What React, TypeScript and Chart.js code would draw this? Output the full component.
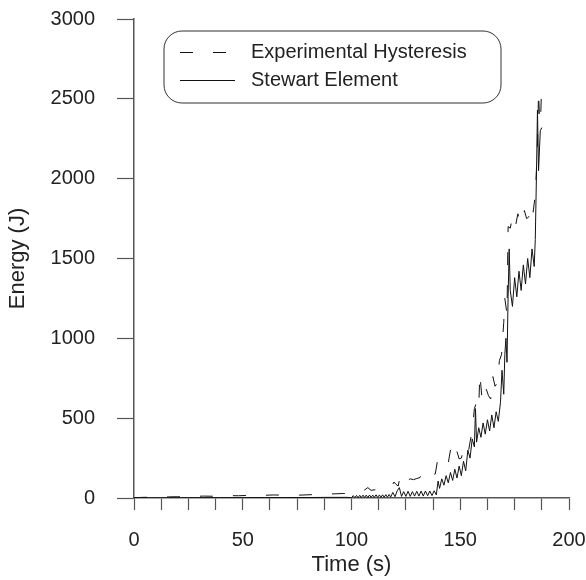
import React, { useEffect, useRef } from 'react';
import { Chart, registerables } from 'chart.js';

Chart.register(...registerables);

const seriesNames = ['Experimental Hysteresis', 'Stewart Element'];
const xAxisTitle = 'Time (s)';
const yAxisTitle = 'Energy (J)';

const expTime = [
  0, 4, 8, 12, 16, 20, 24, 28, 32, 36, 40, 44, 48, 52, 56, 60, 64, 68, 72, 76, 80, 84, 88, 92, 96, 100,
  102, 104, 106, 107.5, 109, 111, 113, 115, 117, 118.5, 119.5, 120.5, 121.5, 122.5, 124, 125.5, 127, 128.5,
  130, 131.5, 132.5, 134, 135.5, 137, 138.5, 139.5, 140.5, 141.5, 143, 144.5, 145.5, 146.5, 147.5, 148.5,
  149.5, 150.5, 151.5, 152.5, 153.5, 154.5, 155.5, 156.5, 157.5, 158.5, 159, 160, 161, 162, 163, 164, 165,
  166, 167, 168, 169, 170, 170.5, 171.5, 172, 173, 174, 174.5, 175.5, 176.5, 177.5, 178.5, 179.5, 180.5,
  181.5, 182.5, 183.5, 184.5, 185.5, 186, 186.5, 187, 187.5
];
const expEnergy = [
  2, 4, 5, 4, 7, 8, 7, 10, 12, 11, 14, 15, 14, 16, 18, 17, 19, 18, 17, 18, 20, 22, 24, 26, 28, 27,
  30, 46, 50, 65, 48, 52, 50, 55, 60, 72, 100, 85, 75, 150, 110, 108, 120, 115,
  122, 128, 168, 140, 138, 145, 150, 230, 185, 200, 205, 220, 300, 240, 235, 290,
  245, 250, 300, 260, 270, 350, 420, 560, 600, 560, 780, 620, 600, 680, 640, 620, 760,
  700, 720, 860, 900, 1100, 1250, 1150, 1700, 1690, 1760, 1700, 1710, 1780, 1720, 1730, 1800, 1750,
  1760, 1840, 1790, 1900, 2200, 2550, 2350, 2400, 2620
];

const stwTime = [
  0, 10, 20, 30, 40, 50, 60, 70, 80, 90, 98, 100,
  100.8, 101.5, 102.3, 103, 103.8, 104.5, 105.3, 106, 106.8, 107.5, 108.3, 109, 109.8, 110.5, 111.3, 112,
  112.8, 113.5, 114.3, 115, 115.8, 116.5, 117.3, 118,
  119, 120, 121, 122, 123, 124, 125, 126, 127, 128, 129, 130, 131, 132, 133, 134, 135, 136, 137, 138, 139,
  139.8, 140.5, 141.5, 142.5, 143.5, 144.5, 145.5, 146.5, 147.5, 148.5, 149.5, 150.5, 151.5, 152.5, 153.5,
  154.5, 155.5, 156.5, 157, 157.5, 158.5, 159.5, 160.5, 161.5, 162.5, 163.5, 164.5, 165.5, 166.5, 167.5,
  168.5, 169.2, 170, 170.5, 171, 171.5, 172, 172.5, 173, 174, 175, 176, 177, 178, 179, 180, 181, 182, 183,
  184, 184.5, 185, 185.5, 186, 186.8, 187.5
];
const stwEnergy = [
  0, 1, 1, 2, 2, 2, 3, 3, 3, 4, 4, 2,
  15, 2, 16, 2, 17, 3, 18, 3, 18, 3, 19, 4, 18, 4, 20, 4,
  19, 4, 20, 5, 21, 5, 22, 6,
  35, 8, 45, 65, 10, 40, 10, 42, 10, 40, 12, 42, 12, 43, 12, 44, 14, 44, 15, 45, 20,
  106, 60, 120, 80, 140, 95, 160, 110, 180, 125, 200, 140, 230, 170, 300,
  250, 370, 320, 560, 350, 440, 380, 470, 400, 490, 420, 520, 440, 540, 480,
  600, 800, 650, 900, 1000, 850, 1260, 1560, 1300, 1200, 1380, 1260, 1420, 1300, 1460, 1340, 1500, 1380, 1560,
  1450, 1620, 2000, 2430, 2050, 2300, 2320
];

const FONT = '"Liberation Sans", Arial, sans-serif';
const TEXT = '#222';
const AXIS = '#555';

const legendBox = {
  id: 'legendBox',
  afterDraw(chart: any) {
    const ctx = chart.ctx as CanvasRenderingContext2D;
    const x0 = 164, y0 = 31, x1 = 501, y1 = 103, r = 18;
    ctx.save();
    ctx.strokeStyle = '#333';
    ctx.lineWidth = 1;
    ctx.beginPath();
    ctx.moveTo(x0 + r, y0);
    ctx.lineTo(x1 - r, y0);
    ctx.arcTo(x1, y0, x1, y0 + r, r);
    ctx.lineTo(x1, y1 - r);
    ctx.arcTo(x1, y1, x1 - r, y1, r);
    ctx.lineTo(x0 + r, y1);
    ctx.arcTo(x0, y1, x0, y1 - r, r);
    ctx.lineTo(x0, y0 + r);
    ctx.arcTo(x0, y0, x0 + r, y0, r);
    ctx.closePath();
    ctx.stroke();

    const rows = [52, 80];
    chart.data.datasets.forEach((ds: any, i: number) => {
      const y = rows[i];
      ctx.strokeStyle = ds.borderColor;
      ctx.lineWidth = 1;
      ctx.setLineDash(ds.borderDash || []);
      ctx.beginPath();
      ctx.moveTo(180, y + 0.5);
      ctx.lineTo(235, y + 0.5);
      ctx.stroke();
      ctx.setLineDash([]);
      ctx.fillStyle = TEXT;
      ctx.font = `20px ${FONT}`;
      ctx.textBaseline = 'middle';
      ctx.textAlign = 'left';
      ctx.fillText(ds.label, 251, y);
    });
    ctx.restore();
  },
};

export default function App() {
  const ref = useRef<HTMLCanvasElement | null>(null);
  useEffect(() => {
    if (!ref.current) return;
    const chart = new Chart(ref.current, {
      type: 'line',
      data: {
        datasets: [
          {
            label: seriesNames[0],
            data: expTime.map((t, i) => ({ x: t, y: expEnergy[i] })),
            borderColor: '#111',
            borderWidth: 1,
            borderDash: [13, 20],
            pointRadius: 0,
            tension: 0,
            fill: false,
          },
          {
            label: seriesNames[1],
            data: stwTime.map((t, i) => ({ x: t, y: stwEnergy[i] })),
            borderColor: '#111',
            borderWidth: 1,
            pointRadius: 0,
            tension: 0,
            fill: false,
          },
        ],
      },
      options: {
        responsive: false,
        animation: false,
        layout: { padding: { top: 19, right: 17, left: 0, bottom: 0 } },
        plugins: { legend: { display: false }, tooltip: { enabled: false } },
        scales: {
          x: {
            type: 'linear',
            min: 0,
            max: 200,
            afterFit: (s: any) => { s.height = 82; s.paddingLeft = 0; s.paddingRight = 0; },
            ticks: {
              stepSize: 12.5,
              autoSkip: false,
              maxRotation: 0,
              padding: 18,
              color: TEXT,
              font: { family: FONT, size: 20 },
              callback: (v: any) => (Number(v) % 50 === 0 ? String(v) : ''),
            },
            grid: { drawOnChartArea: false, drawTicks: true, tickLength: 12, tickColor: AXIS, tickWidth: 1.2 },
            border: { display: true, color: AXIS, width: 1.5 },
            title: { display: true, text: xAxisTitle, color: TEXT, font: { family: FONT, size: 22 }, padding: { top: 0, bottom: 2 } },
          },
          y: {
            type: 'linear',
            min: 0,
            max: 3000,
            afterFit: (s: any) => { s.width = 134; s.paddingTop = 0; s.paddingBottom = 0; },
            ticks: {
              stepSize: 500,
              padding: 22,
              color: TEXT,
              font: { family: FONT, size: 20 },
              callback: (v: any) => String(v),
            },
            grid: { drawOnChartArea: false, drawTicks: true, tickLength: 17, tickColor: AXIS, tickWidth: 1.2 },
            border: { display: true, color: AXIS, width: 1.5 },
            title: { display: true, text: yAxisTitle, color: TEXT, font: { family: FONT, size: 22 }, padding: { top: 5, bottom: 0 } },
          },
        },
      },
      plugins: [legendBox],
    } as any);
    return () => chart.destroy();
  }, []);
  return (
    <div style={{ position: 'absolute', left: 0, top: 0, width: 586, height: 580, background: '#fff' }}>
      <canvas ref={ref} width={586} height={580} />
    </div>
  );
}
